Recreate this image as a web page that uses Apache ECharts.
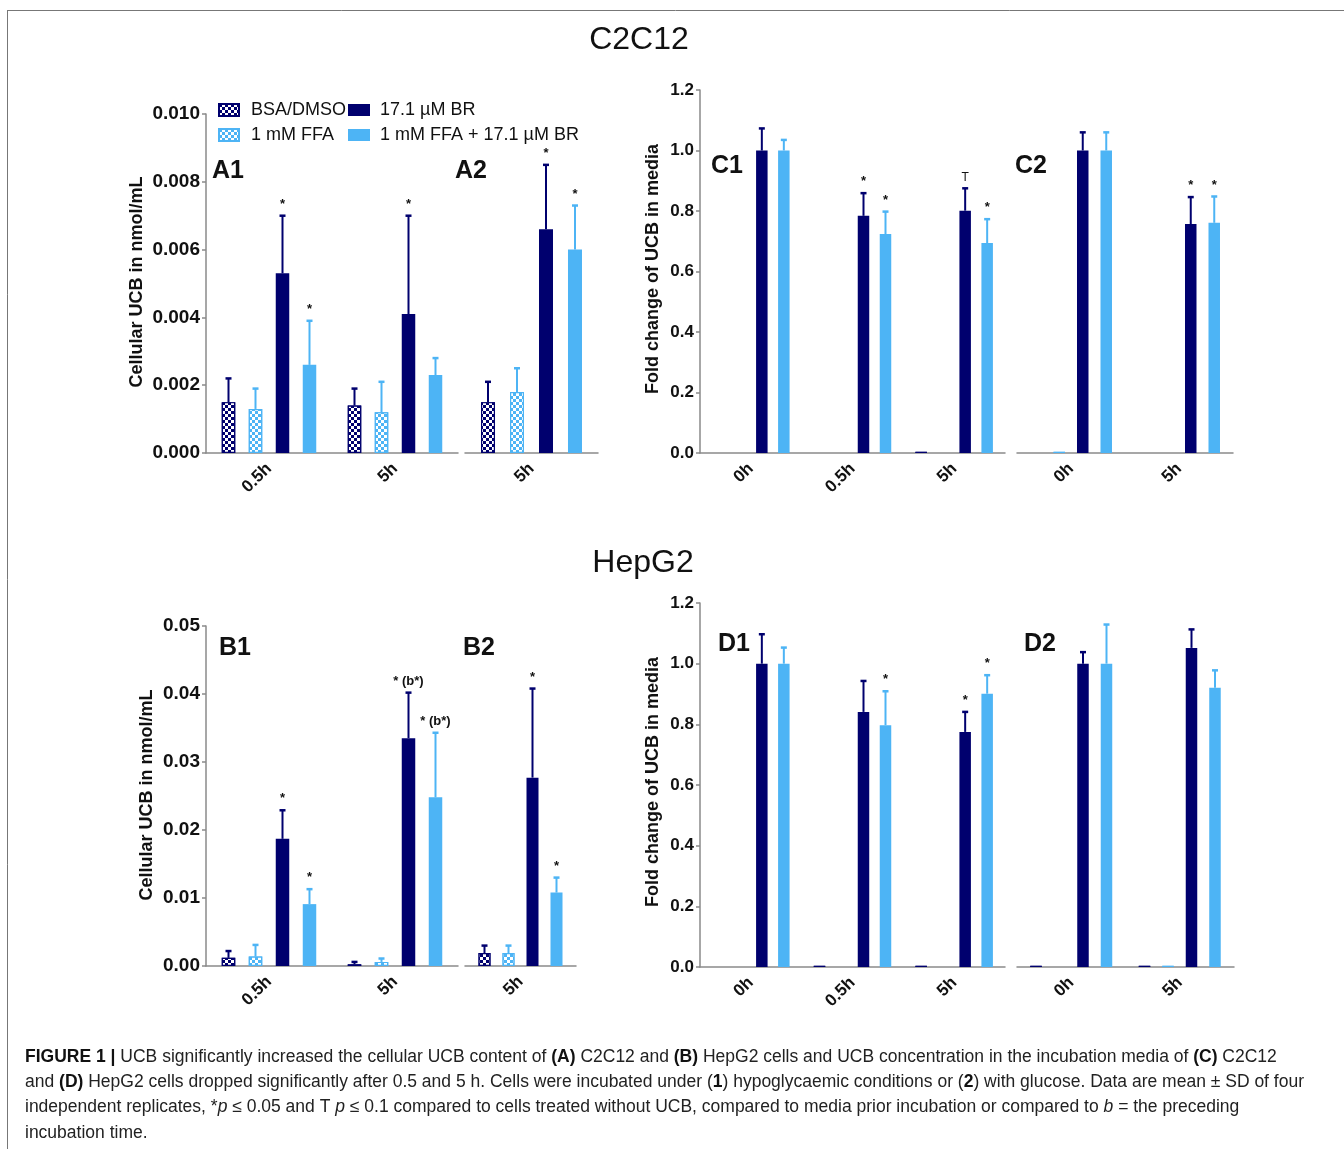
<!DOCTYPE html>
<html>
<head>
<meta charset="utf-8">
<title>Figure 1</title>
<script src="https://cdn.jsdelivr.net/npm/echarts@6/dist/echarts.min.js"></script>
<style>
    html, body { margin: 0; padding: 0; background: #fff; }
    #chart { width: 1344px; height: 1149px; }
</style>
</head>
<body>
<div id="chart"></div>
<script>
// 系列名称与颜色
var seriesNames = ['BSA/DMSO', '1 mM FFA', '17.1 µM BR', '1 mM FFA + 17.1 µM BR'];
var navy = '#00006e', sky = '#4db4f5';
var seriesColors = [navy, sky, navy, sky];
var font = '"Liberation Sans", Arial, Helvetica, sans-serif';

// A: C2C12 cellular UCB (每行一个系列: BSA, FFA, BR, FFA+BR)
var a1Cats = ['0.5h', '5h'];
var a1Mean = [[0.0015, 0.0014], [0.0013, 0.0012], [0.0053, 0.0041], [0.0026, 0.0023]];
var a1Sd = [[0.0007, 0.0005], [0.0006, 0.0009], [0.0017, 0.0029], [0.0013, 0.0005]];
var a1Sig = [['', ''], ['', ''], ['*', '*'], ['*', '']];

var a2Cats = ['5h'];
var a2Mean = [[0.0015], [0.0018], [0.0066], [0.0060]];
var a2Sd = [[0.0006], [0.0007], [0.0019], [0.0013]];
var a2Sig = [[''], [''], ['*'], ['*']];

// B: HepG2 cellular UCB
var b1Cats = ['0.5h', '5h'];
var b1Mean = [[0.0012, 0.00025], [0.0014, 0.0006], [0.0187, 0.0335], [0.0091, 0.0248]];
var b1Sd = [[0.0010, 0.00035], [0.0017, 0.0005], [0.0042, 0.0067], [0.0022, 0.0095]];
var b1Sig = [['', ''], ['', ''], ['*', '* (b*)'], ['*', '* (b*)']];

var b2Cats = ['5h'];
var b2Mean = [[0.0019], [0.0019], [0.0277], [0.0108]];
var b2Sd = [[0.0011], [0.0011], [0.0131], [0.0022]];
var b2Sig = [[''], [''], ['*'], ['*']];

// C: C2C12 fold change in media
var c1Cats = ['0h', '0.5h', '5h'];
var c1Mean = [[null, null, 0.004], [null, null, null], [1.0, 0.784, 0.801], [1.0, 0.724, 0.694]];
var c1Sd = [[null, null, null], [null, null, null], [0.073, 0.075, 0.074], [0.035, 0.074, 0.079]];
var c1Sig = [['', '', ''], ['', '', ''], ['', '*', 'T'], ['', '*', '*']];

var c2Cats = ['0h', '5h'];
var c2Mean = [[null, null], [0.004, null], [1.0, 0.757], [1.0, 0.761]];
var c2Sd = [[null, null], [null, null], [0.060, 0.089], [0.060, 0.087]];
var c2Sig = [['', ''], ['', ''], ['', '*'], ['', '*']];

// D: HepG2 fold change in media
var d1Cats = ['0h', '0.5h', '5h'];
var d1Mean = [[null, 0.004, 0.004], [null, null, null], [1.0, 0.841, 0.775], [1.0, 0.797, 0.901]];
var d1Sd = [[null, null, null], [null, null, null], [0.097, 0.102, 0.066], [0.053, 0.112, 0.061]];
var d1Sig = [['', '', ''], ['', '', ''], ['', '', '*'], ['', '*', '*']];

var d2Cats = ['0h', '5h'];
var d2Mean = [[0.004, 0.004], [null, 0.004], [1.0, 1.052], [1.0, 0.921]];
var d2Sd = [[null, null], [null, null], [0.038, 0.061], [0.129, 0.057]];
var d2Sig = [['', ''], ['', ''], ['', ''], ['', '']];

// 各子图布局
var panels = [
    {cats: a1Cats, mean: a1Mean, sd: a1Sd, sig: a1Sig, box: [206, 114, 252, 339], max: 0.010, step: 0.002, digits: 3, barW: 13.5, gap: 13.5, showY: true, fs: 19},
    {cats: a2Cats, mean: a2Mean, sd: a2Sd, sig: a2Sig, box: [465, 114, 133, 339], max: 0.010, step: 0.002, digits: 3, barW: 14, gap: 15, showY: false, fs: 19},
    {cats: c1Cats, mean: c1Mean, sd: c1Sd, sig: c1Sig, box: [700, 90, 305, 363], max: 1.2, step: 0.2, digits: 1, barW: 11.5, gap: 10.5, showY: true, fs: 17},
    {cats: c2Cats, mean: c2Mean, sd: c2Sd, sig: c2Sig, box: [1017, 90, 216, 363], max: 1.2, step: 0.2, digits: 1, barW: 11.5, gap: 12, showY: false, fs: 17},
    {cats: b1Cats, mean: b1Mean, sd: b1Sd, sig: b1Sig, box: [206, 626, 252, 340], max: 0.05, step: 0.01, digits: 2, barW: 13.5, gap: 13.5, showY: true, fs: 19},
    {cats: b2Cats, mean: b2Mean, sd: b2Sd, sig: b2Sig, box: [465, 626, 111, 340], max: 0.05, step: 0.01, digits: 2, barW: 12, gap: 12, showY: false, fs: 19},
    {cats: d1Cats, mean: d1Mean, sd: d1Sd, sig: d1Sig, box: [700, 603, 305, 364], max: 1.2, step: 0.2, digits: 1, barW: 11.5, gap: 10.5, showY: true, fs: 17},
    {cats: d2Cats, mean: d2Mean, sd: d2Sd, sig: d2Sig, box: [1017, 603, 217, 364], max: 1.2, step: 0.2, digits: 1, barW: 11.5, gap: 12, showY: false, fs: 17}
];

// 棋盘格纹理
var checker = {
    symbol: 'rect',
    symbolSize: 1,
    color: '#ffffff',
    dashArrayX: [[3, 3], [0, 3, 3, 0]],
    dashArrayY: [3, 0]
};

var axisGray = '#8a8a8a';
var grids = [], xAxes = [], yAxes = [], series = [];

/** 误差线 + 显著性标记 */
function errRender(spacing, sigs) {
    return function (params, api) {
        var cat = api.value(0), slot = api.value(1);
        var base = api.coord([cat, api.value(2)]);
        var tip = api.coord([cat, api.value(3)]);
        var x = base[0] + (slot - 1.5) * spacing;
        var col = seriesColors[slot];
        var children = [
            {type: 'line', shape: {x1: x, y1: base[1], x2: x, y2: tip[1]}, style: {stroke: col, lineWidth: 2}},
            {type: 'line', shape: {x1: x - 3, y1: tip[1], x2: x + 3, y2: tip[1]}, style: {stroke: col, lineWidth: 2.5}}
        ];
        var lab = sigs[params.dataIndex];
        if (lab) {
            children.push({
                type: 'text', x: x, y: tip[1] - 5,
                style: {
                    text: lab, fill: '#111', fontSize: lab === 'T' ? 12 : 13,
                    fontWeight: lab === 'T' ? 'normal' : 'bold', fontFamily: font,
                    align: 'center', verticalAlign: 'bottom'
                }
            });
        }
        return {type: 'group', children: children};
    };
}

panels.forEach(function (p, g) {
    grids.push({left: p.box[0], top: p.box[1], width: p.box[2], height: p.box[3], containLabel: false});
    xAxes.push({
        type: 'category', gridIndex: g, data: p.cats,
        axisLine: {lineStyle: {color: axisGray, width: 1.5}},
        axisTick: {alignWithLabel: true, length: 5, lineStyle: {color: axisGray, width: 1.5}},
        axisLabel: {rotate: 45, fontSize: 17, fontWeight: 'bold', color: '#111', fontFamily: font, margin: 13}
    });
    yAxes.push({
        type: 'value', gridIndex: g, min: 0, max: p.max, interval: p.step, show: p.showY,
        splitLine: {show: false},
        axisLine: {show: true, lineStyle: {color: axisGray, width: 1.5}},
        axisTick: {show: true, length: 4, lineStyle: {color: axisGray, width: 1.5}},
        axisLabel: {
            fontSize: p.fs, fontWeight: 'bold', color: '#111', fontFamily: font, margin: 6,
            formatter: function (v) { return v.toFixed(p.digits); }
        }
    });
    for (var s = 0; s < 4; s++) {
        var itemStyle = {color: seriesColors[s]};
        if (s < 2) {
            itemStyle.decal = checker;
            itemStyle.borderColor = seriesColors[s];
            itemStyle.borderWidth = 1.2;
        }
        series.push({
            type: 'bar', name: seriesNames[s], xAxisIndex: g, yAxisIndex: g,
            data: p.mean[s], barWidth: p.barW, barGap: (p.gap / p.barW * 100).toFixed(1) + '%',
            itemStyle: itemStyle, emphasis: {disabled: true}, silent: true
        });
    }
    var errData = [], errSig = [];
    for (var s2 = 0; s2 < 4; s2++) {
        for (var c = 0; c < p.cats.length; c++) {
            var m = p.mean[s2][c], d = p.sd[s2][c];
            if (m == null || d == null) continue;
            errData.push([c, s2, m, m + d]);
            errSig.push(p.sig[s2][c]);
        }
    }
    series.push({
        type: 'custom', xAxisIndex: g, yAxisIndex: g, z: 5, silent: true,
        renderItem: errRender(p.barW + p.gap, errSig),
        encode: {x: 0, y: 3},
        data: errData
    });
});

/** 文字标注 */
function txt(x, y, text, size, weight, rot) {
    return {
        type: 'text', x: x, y: y, rotation: rot || 0,
        style: {text: text, fontSize: size, fontWeight: weight, fill: '#111', fontFamily: font, align: 'center', verticalAlign: 'middle'}
    };
}

var captionLines = [
    '{b|FIGURE 1 |} UCB significantly increased the cellular UCB content of {b|(A)} C2C12 and {b|(B)} HepG2 cells and UCB concentration in the incubation media of {b|(C)} C2C12',
    'and {b|(D)} HepG2 cells dropped significantly after 0.5 and 5 h. Cells were incubated under ({b|1}) hypoglycaemic conditions or ({b|2}) with glucose. Data are mean ± SD of four',
    'independent replicates, *{i|p} ≤ 0.05 and T {i|p} ≤ 0.1 compared to cells treated without UCB, compared to media prior incubation or compared to {i|b} = the preceding',
    'incubation time.'
];

var graphics = [
    {type: 'line', shape: {x1: 7, y1: 10.5, x2: 1344, y2: 10.5}, style: {stroke: '#777', lineWidth: 1}},
    {type: 'line', shape: {x1: 7.5, y1: 10, x2: 7.5, y2: 1149}, style: {stroke: '#777', lineWidth: 1}},
    txt(639, 40, 'C2C12', 32, 'normal'),
    txt(643, 563, 'HepG2', 32, 'normal'),
    txt(228, 171, 'A1', 25, 'bold'),
    txt(471, 171, 'A2', 25, 'bold'),
    txt(727, 166, 'C1', 25, 'bold'),
    txt(1031, 166, 'C2', 25, 'bold'),
    txt(235, 648, 'B1', 25, 'bold'),
    txt(479, 648, 'B2', 25, 'bold'),
    txt(734, 644, 'D1', 25, 'bold'),
    txt(1040, 644, 'D2', 25, 'bold'),
    txt(137, 282, 'Cellular UCB in nmol/mL', 18, 'bold', Math.PI / 2),
    txt(147, 795, 'Cellular UCB in nmol/mL', 18, 'bold', Math.PI / 2),
    txt(653, 269, 'Fold change of UCB in media', 18, 'bold', Math.PI / 2),
    txt(653, 782, 'Fold change of UCB in media', 18, 'bold', Math.PI / 2)
];
captionLines.forEach(function (line, i) {
    graphics.push({
        type: 'text', x: 25, y: 1057 + i * 25.3,
        style: {
            text: line, fontSize: 17.5, fill: '#222', fontFamily: font, verticalAlign: 'middle',
            rich: {
                b: {fontWeight: 'bold', fontSize: 17.5, fill: '#111', fontFamily: font},
                i: {fontStyle: 'italic', fontSize: 17.5, fill: '#222', fontFamily: font}
            }
        }
    });
});

var chart = echarts.init(document.getElementById('chart'));
chart.setOption({
    animation: false,
    textStyle: {fontFamily: font},
    grid: grids,
    xAxis: xAxes,
    yAxis: yAxes,
    legend: [
        {data: [seriesNames[0], seriesNames[1]], orient: 'vertical', left: 218, top: 100, padding: 0,
            itemWidth: 20, itemHeight: 12, itemGap: 5, icon: 'rect', selectedMode: false,
            textStyle: {fontSize: 18, color: '#111', fontFamily: font, lineHeight: 20, padding: [0, 0, 0, 7]}},
        {data: [seriesNames[2], seriesNames[3]], orient: 'vertical', left: 348, top: 100, padding: 0,
            itemWidth: 22, itemHeight: 12, itemGap: 5, icon: 'rect', selectedMode: false,
            textStyle: {fontSize: 18, color: '#111', fontFamily: font, lineHeight: 20, padding: [0, 0, 0, 5]}}
    ],
    graphic: graphics,
    series: series
});
</script>
</body>
</html>
